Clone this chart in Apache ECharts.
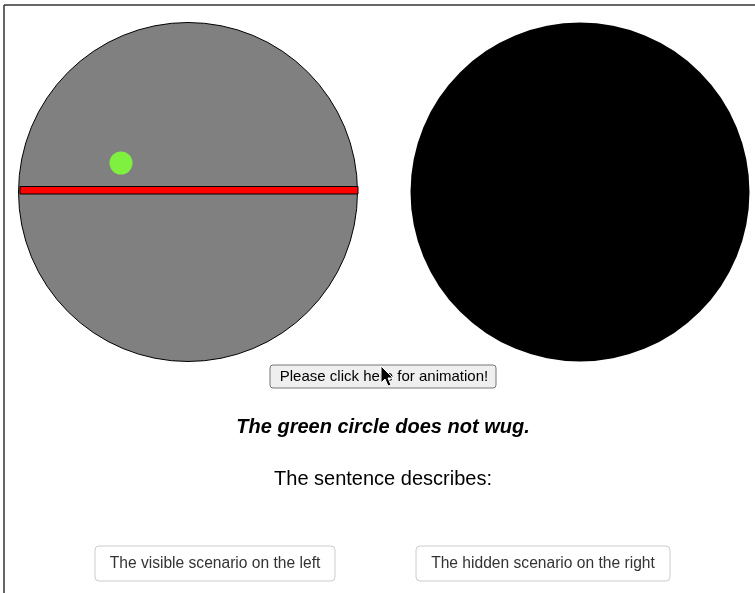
<!DOCTYPE html>
<html>
<head>
<meta charset="utf-8">
<script src="https://cdn.jsdelivr.net/npm/echarts@6/dist/echarts.min.js"></script>
<style>
  html, body { margin: 0; padding: 0; background: #fff; }
  #main { width: 755px; height: 593px; }
</style>
</head>
<body>
<div id="main"></div>
<script>
// scene coordinates (page pixels)
var sceneNames = ['visible', 'hidden'];
var sceneCenters = [[188, 192], [580, 192]];
var sceneColors = ['#808080', '#000000'];
var barExtent = [[20, 186.5, 358, 194]]; // x0, y0, x1, y1
var dotCenter = [[121, 163]];

var sentence = 'The green circle does not wug.';
var prompt = 'The sentence describes:';
var animButton = 'Please click here for animation!';
var answers = ['The visible scenario on the left', 'The hidden scenario on the right'];

var chart = echarts.init(document.getElementById('main'));

var sceneData = sceneCenters.map(function (c, i) {
    return {
        name: sceneNames[i],
        value: c,
        itemStyle: {
            color: sceneColors[i],
            opacity: 1,
            borderColor: '#000',
            borderWidth: i === 0 ? 1 : 0
        }
    };
});

var option = {
    backgroundColor: '#fff',
    animation: false,
    grid: {left: 0, right: 0, top: 0, bottom: 0},
    xAxis: {type: 'value', min: 0, max: 755, show: false},
    yAxis: {type: 'value', min: 0, max: 593, inverse: true, show: false},
    series: [
        {
            name: 'scenes',
            type: 'scatter',
            symbol: 'circle',
            symbolSize: 339,
            data: sceneData,
            z: 1
        },
        {
            name: 'bar',
            type: 'custom',
            data: barExtent,
            z: 2,
            renderItem: function (params, api) {
                var p0 = api.coord([api.value(0), api.value(1)]);
                var p1 = api.coord([api.value(2), api.value(3)]);
                return {
                    type: 'rect',
                    shape: {x: p0[0], y: p0[1], width: p1[0] - p0[0], height: p1[1] - p0[1]},
                    style: {fill: '#ff0000', stroke: '#000', lineWidth: 1}
                };
            }
        },
        {
            name: 'dot',
            type: 'scatter',
            symbol: 'circle',
            symbolSize: 23,
            itemStyle: {color: '#80f040', opacity: 1},
            data: dotCenter,
            z: 3
        }
    ],
    graphic: [
        // page frame
        {type: 'line', shape: {x1: 4, y1: 5, x2: 755, y2: 5}, style: {stroke: '#333', lineWidth: 1.5}},
        {type: 'line', shape: {x1: 4, y1: 5, x2: 4, y2: 593}, style: {stroke: '#333', lineWidth: 1.5}},
        // animation button
        {
            type: 'rect', shape: {x: 270, y: 365, width: 226, height: 23, r: 3},
            style: {fill: '#efefef', stroke: '#767676', lineWidth: 1}
        },
        {
            type: 'text', x: 384, y: 377,
            style: {text: animButton, font: '15px "Liberation Sans", Arial, sans-serif', fill: '#000', align: 'center', verticalAlign: 'middle'}
        },
        // cursor
        {
            type: 'polygon', z: 100,
            shape: {points: [[381, 366], [381, 383], [385, 379], [388, 386], [391, 385], [388, 378], [393, 378]]},
            style: {fill: '#000', stroke: '#fff', lineWidth: 1}
        },
        {
            type: 'text', x: 383, y: 427,
            style: {text: sentence, font: 'italic bold 20px "Liberation Sans", Arial, sans-serif', fill: '#000', align: 'center', verticalAlign: 'middle'}
        },
        {
            type: 'text', x: 383, y: 479,
            style: {text: prompt, font: '20px "Liberation Sans", Arial, sans-serif', fill: '#000', align: 'center', verticalAlign: 'middle'}
        },
        // answer buttons
        {
            type: 'rect', shape: {x: 95, y: 546, width: 240, height: 35, r: 4},
            style: {fill: '#fff', stroke: '#cccccc', lineWidth: 1}
        },
        {
            type: 'text', x: 215, y: 563.5,
            style: {text: answers[0], font: '15.6px "Liberation Sans", Arial, sans-serif', fill: '#333', align: 'center', verticalAlign: 'middle'}
        },
        {
            type: 'rect', shape: {x: 416, y: 546, width: 254, height: 35, r: 4},
            style: {fill: '#fff', stroke: '#cccccc', lineWidth: 1}
        },
        {
            type: 'text', x: 543, y: 563.5,
            style: {text: answers[1], font: '15.6px "Liberation Sans", Arial, sans-serif', fill: '#333', align: 'center', verticalAlign: 'middle'}
        }
    ]
};

chart.setOption(option);
</script>
</body>
</html>
